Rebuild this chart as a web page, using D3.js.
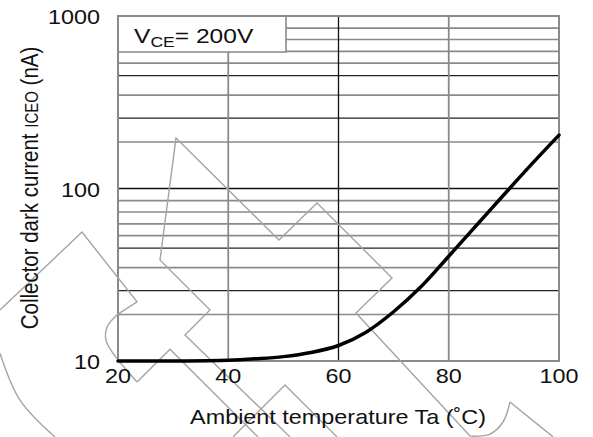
<!DOCTYPE html>
<html>
<head>
<meta charset="utf-8">
<script src="https://cdn.jsdelivr.net/npm/d3@7"></script>
<style>
  body { margin: 0; background: #fff; }
  svg { display: block; }
  text { font-family: "Liberation Sans", Arial, sans-serif; fill: #111; }
</style>
</head>
<body>
<div id="chart"></div>
<script>
// values
let temps = [20, 30, 40, 45, 50, 55, 60, 65, 70, 75, 80, 85, 90, 95, 100];
let current = [10, 10.0, 10.1, 10.3, 10.6, 11.2, 12.3, 14.7, 19.3, 27, 40.5, 61, 92, 138, 204];

let xTicks = [20, 40, 60, 80, 100];
let yTicks = [10, 100, 1000];

// the printed grid is not a true log grid; these are the step factors as drawn
let decades = [10, 100];
let gridSteps = [1.86, 2.56, 3.48, 4.51, 5.33, 6.24, 7.31, 8.51];
let darkSteps = [2.56, 4.51];

// scan watermark, in chart units [Ta, nA]
let wmLines = [
    [[51.2, 3.63], [32.15, 14.15], [36.69, 19.76], [27.62, 38.5], [30.52, 196], [49.21, 50.3],
     [56.11, 82.4], [69.71, 30.3], [63.17, 19.0], [83.86, 3.67]],
    [[40.86, 3.63], [50.29, 7.26], [59.73, 3.63]],
    [[-1.41, 19.76], [13.47, 55.9], [23.45, 22.0], [20, 18.7]],
    [[23.45, 7.56], [29.43, 11.7], [45.4, 3.63]],
    [[91.11, 5.79], [98.91, 3.63]]
];
let wmArcs = [
    [[20, 18.7], [18.0, 15.7], [17.82, 13.2], [19.09, 11.1], [23.45, 7.56]],
    [[83.86, 3.67], [87.48, 3.77], [89.84, 4.43], [91.11, 5.79]],
    [[-1.41, 11.1], [2.22, 5.94], [8.57, 3.63]]
];

let margin = { left: 118, top: 16 };
let width = 441, height = 345;
let sx = 1.17; // the source image is stretched sideways

let svg = d3.select("#chart").append("svg")
    .attr("width", 593)
    .attr("height", 437);

let g = svg.append("g")
    .attr("transform", "translate(" + margin.left + "," + margin.top + ")");

let x = d3.scaleLinear().domain([20, 100]).range([0, width]);
let y = d3.scaleLog().domain([10, 1000]).range([height, 0]);

// horizontal grid
let hLines = [];
decades.forEach(function(d) {
    gridSteps.forEach(function(s) {
        hLines.push({ v: d * s, dark: darkSteps.indexOf(s) >= 0 });
    });
});

g.selectAll(".hgrid")
    .data(hLines)
    .enter()
    .append("line")
    .attr("class", "hgrid")
    .attr("x1", 0).attr("x2", width)
    .attr("y1", function(d) { return y(d.v); })
    .attr("y2", function(d) { return y(d.v); })
    .attr("stroke", function(d) { return d.dark ? "#222" : "#8a8a8a"; })
    .attr("stroke-width", function(d) { return d.dark ? 1.3 : 1.6; });

g.append("line")
    .attr("x1", 0).attr("x2", width)
    .attr("y1", y(100)).attr("y2", y(100))
    .attr("stroke", "#111").attr("stroke-width", 1.3);

// vertical grid
g.selectAll(".vgrid")
    .data([40, 60, 80])
    .enter()
    .append("line")
    .attr("class", "vgrid")
    .attr("x1", function(d) { return x(d); })
    .attr("x2", function(d) { return x(d); })
    .attr("y1", 0).attr("y2", height)
    .attr("stroke", function(d) { return d == 60 ? "#111" : "#8a8a8a"; })
    .attr("stroke-width", function(d) { return d == 60 ? 1.3 : 1.8; });

// label box in the corner
g.append("rect")
    .attr("x", 0).attr("y", 0)
    .attr("width", 168).attr("height", 36)
    .attr("fill", "#fff");
g.append("path")
    .attr("d", "M168,0V36H0")
    .attr("fill", "none")
    .attr("stroke", "#8a8a8a")
    .attr("stroke-width", 1.6);

// plot frame
g.append("rect")
    .attr("x", 0).attr("y", 0)
    .attr("width", width).attr("height", height)
    .attr("fill", "none")
    .attr("stroke", "#8a8a8a")
    .attr("stroke-width", 2);

// watermark
let wmLine = d3.line()
    .x(function(d) { return x(d[0]); })
    .y(function(d) { return y(d[1]); });
let wmCurve = d3.line()
    .x(function(d) { return x(d[0]); })
    .y(function(d) { return y(d[1]); })
    .curve(d3.curveCatmullRom);

g.selectAll(".wm")
    .data(wmLines)
    .enter()
    .append("path")
    .attr("class", "wm")
    .attr("d", wmLine)
    .attr("fill", "none")
    .attr("stroke", "#a4a4a4")
    .attr("stroke-width", 1.4);

g.selectAll(".wmarc")
    .data(wmArcs)
    .enter()
    .append("path")
    .attr("class", "wmarc")
    .attr("d", wmCurve)
    .attr("fill", "none")
    .attr("stroke", "#a4a4a4")
    .attr("stroke-width", 1.4);

// the curve
let line = d3.line()
    .x(function(d, i) { return x(temps[i]); })
    .y(function(d) { return y(d); })
    .curve(d3.curveCatmullRom.alpha(0.5));

g.append("path")
    .datum(current)
    .attr("d", line)
    .attr("fill", "none")
    .attr("stroke", "#000")
    .attr("stroke-width", 3.5)
    .attr("stroke-linecap", "round");

// tick labels
g.selectAll(".xlab")
    .data(xTicks)
    .enter()
    .append("text")
    .attr("class", "xlab")
    .attr("transform", function(d) { return "translate(" + x(d) + "," + (height + 22) + ") scale(" + sx + ",1)"; })
    .attr("text-anchor", "middle")
    .style("font-size", "20px")
    .text(function(d) { return d; });

g.selectAll(".ylab")
    .data(yTicks)
    .enter()
    .append("text")
    .attr("class", "ylab")
    .attr("transform", function(d) { return "translate(-18," + (y(d) + 8) + ") scale(" + sx + ",1)"; })
    .attr("text-anchor", "end")
    .style("font-size", "20px")
    .text(function(d) { return d; });

// axis titles
svg.append("text")
    .attr("transform", "translate(338,424) scale(" + sx + ",1)")
    .attr("text-anchor", "middle")
    .style("font-size", "20px")
    .text("Ambient temperature Ta (\u02DAC)");

let yTitle = svg.append("text")
    .attr("transform", "translate(38,188) scale(" + sx + ",1) rotate(-90)")
    .attr("text-anchor", "middle")
    .style("font-size", "20.5px");
yTitle.append("tspan").text("Collector dark current ");
yTitle.append("tspan").style("font-size", "15px").text("ICEO");
yTitle.append("tspan").text(" (nA)");

// condition label
let cond = svg.append("text")
    .attr("transform", "translate(134,43) scale(" + sx + ",1)")
    .style("font-size", "21px");
cond.append("tspan").text("V");
cond.append("tspan").attr("dy", 4).style("font-size", "15px").text("CE");
cond.append("tspan").attr("dy", -4).text("= 200V");
</script>
</body>
</html>
